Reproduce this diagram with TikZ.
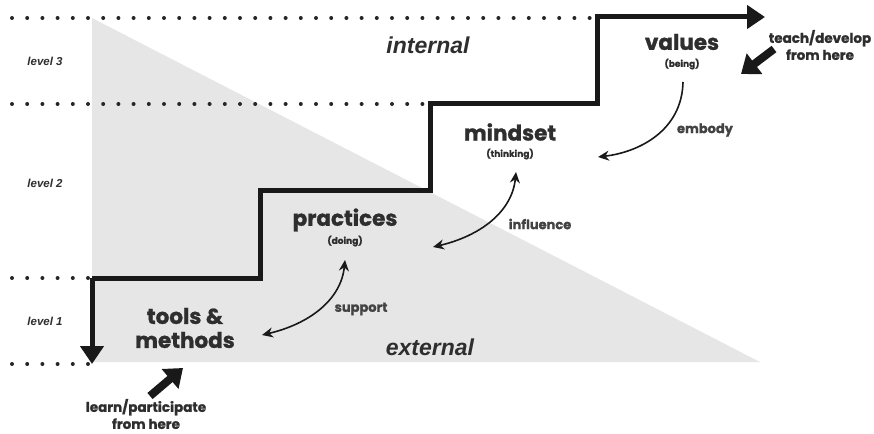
\documentclass[tikz,border=0pt]{standalone}
\usepackage{fontspec}
\setmainfont{Poppins}[BoldFeatures={FakeBold=1.2}]
\newfontfamily\arialfont{Liberation Sans}
\usetikzlibrary{arrows.meta}
\definecolor{txt}{HTML}{2E2E2E}
\definecolor{tri}{HTML}{E6E6E6}
\tikzset{
  dots/.style={line width=4pt, dash pattern=on 0pt off 15.2pt, line cap=round, black!85},
  stair/.style={line width=5pt, black!90, line join=miter},
  bigtip/.style={-{Triangle[length=18pt,width=23pt]}},
  fat/.style={line width=8pt, black!90, -{Triangle[length=17pt,width=25pt]}},
  curv/.style={line width=1.6pt, black!90},
  ctip/.style={{Stealth[length=11pt,width=10pt]}-{Stealth[length=11pt,width=10pt]}},
  etip/.style={-{Stealth[length=11pt,width=10pt]}},
  big/.style={font=\bfseries\fontsize{21.5}{24}\selectfont, text=txt, inner sep=0pt},
  small/.style={font=\bfseries\fontsize{9}{10}\selectfont, text=txt, inner sep=0pt},
  lbl/.style={font=\bfseries\fontsize{13}{15}\selectfont, text=txt!90, inner sep=0pt},
  here/.style={font=\bfseries\fontsize{13.5}{17}\selectfont, text=txt, inner sep=0pt, align=center},
  lvl/.style={font=\arialfont\bfseries\itshape\fontsize{11.5}{12}\selectfont, text=txt, inner sep=0pt},
  side/.style={font=\arialfont\bfseries\itshape\fontsize{23}{25}\selectfont, text=txt, inner sep=0pt},
}
\begin{document}
\begin{tikzpicture}[x=1pt,y=-1pt]
\useasboundingbox (0,0) rectangle (874,433);
% triangle
\fill[tri] (92,18) -- (92,362) -- (760,362) -- cycle;
% dotted level lines
\draw[dots] (12,18) -- (592,18);
\draw[dots] (12,104) -- (428,104);
\draw[dots] (12,278) -- (88,278);
\draw[dots] (12,364) -- (88,364);
% staircase
\coordinate (s0) at (92,278);
\coordinate (sdown) at (92,364);
\coordinate (send) at (765,17);
\draw[stair, bigtip] (s0) -- (sdown);
\draw[stair, bigtip] (s0) -- (260,278) -- (260,190) -- (430,190) -- (430,104) -- (597,104) -- (597,17) -- (send);
% level labels
\node[lvl] (l3) at (45,61) {level 3};
\node[lvl] (l2) at (45,183) {level 2};
\node[lvl] (l1) at (45,321) {level 1};
\node[side] (int) at (428,45) {internal};
\node[side] (ext) at (430,347) {external};
% main nodes
\node[big] (values) at (682,42) {values};
\node[small] (being) at (682,64) {(being)};
\node[big] (mindset) at (510,132) {mindset};
\node[small] (thinking) at (510,154) {(thinking)};
\node[big] (practices) at (345,220) {practices};
\node[small] (doing) at (345,241) {(doing)};
\node[big, align=center, font=\bfseries\fontsize{21.5}{24}\selectfont] (tools) at (185,328) {tools \&\\methods};
% here labels
\node[here] (teach) at (820,45) {teach/develop\\from here};
\node[here] (learn) at (146,414) {learn/participate\\from here};
% fat arrows
\coordinate (ta) at (774,49);
\coordinate (tb) at (741,74);
\draw[fat] (ta) -- (tb);
\coordinate (la) at (150,396);
\coordinate (lb) at (183,368);
\draw[fat] (la) -- (lb);
% curved arrows
\coordinate (e1) at (683,82);
\coordinate (e2) at (598,157);
\draw[curv, etip] (e1) .. controls (682,130) and (640,152) .. (e2);
\node[lbl] (embody) at (705,130) {embody};
\coordinate (i1) at (433,247);
\coordinate (i2) at (516,172);
\draw[curv, ctip] (i1) .. controls (480,236) and (512,212) .. (i2);
\node[lbl] (influence) at (540,224) {influence};
\coordinate (p1) at (262,335);
\coordinate (p2) at (345,260);
\draw[curv, ctip] (p1) .. controls (309,324) and (341,300) .. (p2);
\node[lbl] (support) at (361,309) {support};
\end{tikzpicture}
\end{document}
